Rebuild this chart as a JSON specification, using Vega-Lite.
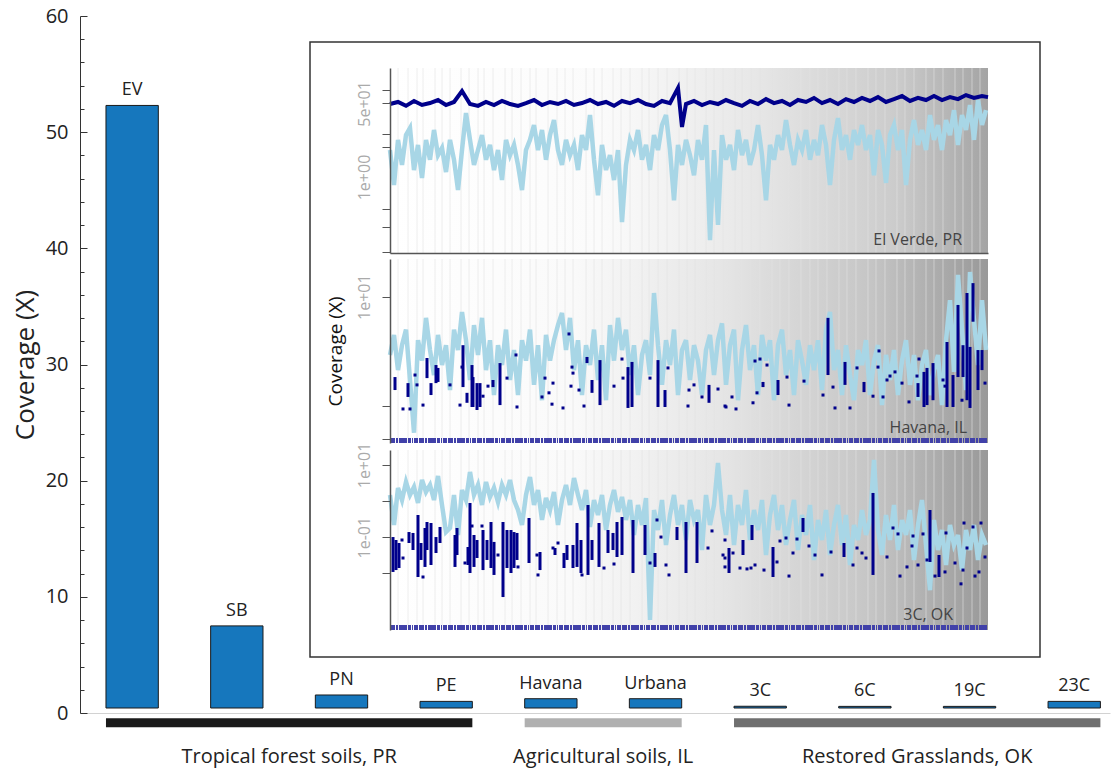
{
"$schema": "https://vega.github.io/schema/vega-lite/v6.json",
"width": 1030, "height": 697,
"autosize": {"type": "none"},
"padding": {"left": 80, "top": 16, "right": 10, "bottom": 59},
"config": {"view": {"stroke": null}, "font": "Open Sans", "axis": {"grid": false, "labelFlush": false, "labelOverlap": false}},
"datasets": {
"bars": [{"sample":"EV","value":52.3},{"sample":"SB","value":7.5},{"sample":"PN","value":1.55},{"sample":"PE","value":1.0},{"sample":"Havana","value":1.23},{"sample":"Urbana","value":1.23},{"sample":"3C","value":0.58},{"sample":"6C","value":0.57},{"sample":"19C","value":0.57},{"sample":"23C","value":1.0}],
"groups": [{"group":"Tropical forest soils, PR","first":"EV","last":"PE","anchor":"SB"},{"group":"Agricultural soils, IL","first":"Havana","last":"Urbana","anchor":"Havana"},{"group":"Restored Grasslands, OK","first":"3C","last":"23C","anchor":"6C"}],
"site1": [{"site":"El Verde, PR"}],
"site2": [{"site":"Havana, IL"}],
"site3": [{"site":"3C, OK"}],
"bounds": [{"pos":8},{"pos":18},{"pos":27},{"pos":33},{"pos":45},{"pos":52},{"pos":60},{"pos":71},{"pos":79},{"pos":88},{"pos":94},{"pos":103},{"pos":115},{"pos":122},{"pos":131},{"pos":140},{"pos":146},{"pos":158},{"pos":167},{"pos":175},{"pos":183},{"pos":196},{"pos":204},{"pos":212},{"pos":223},{"pos":231},{"pos":240},{"pos":252},{"pos":259},{"pos":268},{"pos":277},{"pos":289},{"pos":297},{"pos":305},{"pos":316},{"pos":324},{"pos":333},{"pos":345},{"pos":352},{"pos":361},{"pos":370},{"pos":382},{"pos":390},{"pos":399},{"pos":411},{"pos":420},{"pos":428},{"pos":437},{"pos":449},{"pos":457},{"pos":466},{"pos":478},{"pos":486},{"pos":495},{"pos":507},{"pos":515},{"pos":524},{"pos":536},{"pos":544},{"pos":553},{"pos":565},{"pos":573},{"pos":582},{"pos":590}],
"p1light": [{"pos":0,"cov":4.2},{"pos":4,"cov":0.65},{"pos":8,"cov":7.2},{"pos":12,"cov":1.9},{"pos":16,"cov":9.3},{"pos":20,"cov":13.5},{"pos":24,"cov":1.45},{"pos":28,"cov":5.5},{"pos":32,"cov":0.95},{"pos":36,"cov":7.2},{"pos":40,"cov":2.5},{"pos":44,"cov":12.2},{"pos":48,"cov":3.2},{"pos":52,"cov":4.7},{"pos":56,"cov":1.3},{"pos":60,"cov":7.2},{"pos":64,"cov":2.5},{"pos":68,"cov":0.5},{"pos":72,"cov":4.2},{"pos":76,"cov":30},{"pos":80,"cov":7.2},{"pos":84,"cov":1.9},{"pos":88,"cov":4.2},{"pos":92,"cov":9.3},{"pos":96,"cov":2.5},{"pos":100,"cov":5.5},{"pos":104,"cov":1.45},{"pos":108,"cov":4.2},{"pos":112,"cov":0.85},{"pos":116,"cov":7.2},{"pos":120,"cov":3.2},{"pos":124,"cov":5.5},{"pos":128,"cov":1.9},{"pos":132,"cov":0.5},{"pos":136,"cov":4.2},{"pos":140,"cov":7.2},{"pos":144,"cov":15.9},{"pos":148,"cov":4.2},{"pos":152,"cov":12.2},{"pos":156,"cov":2.5},{"pos":160,"cov":9.3},{"pos":164,"cov":20.7},{"pos":168,"cov":4.2},{"pos":172,"cov":1.9},{"pos":176,"cov":7.2},{"pos":180,"cov":3.2},{"pos":184,"cov":5.5},{"pos":188,"cov":1.45},{"pos":192,"cov":9.3},{"pos":196,"cov":4.2},{"pos":200,"cov":27},{"pos":204,"cov":2.5},{"pos":208,"cov":0.38},{"pos":212,"cov":5.5},{"pos":216,"cov":1.45},{"pos":220,"cov":3.2},{"pos":224,"cov":0.85},{"pos":228,"cov":4.2},{"pos":232,"cov":0.091},{"pos":236,"cov":1.9},{"pos":240,"cov":7.2},{"pos":244,"cov":4.2},{"pos":248,"cov":12.2},{"pos":252,"cov":2.5},{"pos":256,"cov":5.5},{"pos":260,"cov":1.45},{"pos":264,"cov":9.3},{"pos":268,"cov":4.2},{"pos":272,"cov":15.9},{"pos":276,"cov":27},{"pos":280,"cov":4.2},{"pos":284,"cov":0.29},{"pos":288,"cov":5.5},{"pos":292,"cov":1.9},{"pos":296,"cov":7.2},{"pos":300,"cov":3.2},{"pos":304,"cov":1.1},{"pos":308,"cov":7.2},{"pos":312,"cov":2.5},{"pos":316,"cov":15.9},{"pos":320,"cov":0.035},{"pos":324,"cov":4.2},{"pos":328,"cov":0.078},{"pos":332,"cov":9.3},{"pos":336,"cov":2.5},{"pos":340,"cov":5.5},{"pos":344,"cov":1.45},{"pos":348,"cov":12.2},{"pos":352,"cov":3.2},{"pos":356,"cov":7.2},{"pos":360,"cov":1.9},{"pos":364,"cov":4.2},{"pos":368,"cov":15.9},{"pos":372,"cov":3.2},{"pos":376,"cov":0.29},{"pos":380,"cov":5.5},{"pos":384,"cov":2.5},{"pos":388,"cov":9.3},{"pos":392,"cov":4.2},{"pos":396,"cov":20.7},{"pos":400,"cov":5.5},{"pos":404,"cov":1.9},{"pos":408,"cov":7.2},{"pos":412,"cov":4.2},{"pos":416,"cov":12.2},{"pos":420,"cov":2.5},{"pos":424,"cov":7.2},{"pos":428,"cov":3.2},{"pos":432,"cov":15.9},{"pos":436,"cov":5.5},{"pos":440,"cov":0.65},{"pos":444,"cov":7.2},{"pos":448,"cov":23},{"pos":452,"cov":4.2},{"pos":456,"cov":9.3},{"pos":460,"cov":2.5},{"pos":464,"cov":12.2},{"pos":468,"cov":5.5},{"pos":472,"cov":15.9},{"pos":476,"cov":4.2},{"pos":480,"cov":9.3},{"pos":484,"cov":1.1},{"pos":488,"cov":12.2},{"pos":492,"cov":5.5},{"pos":496,"cov":0.73},{"pos":500,"cov":9.3},{"pos":504,"cov":15.9},{"pos":508,"cov":4.2},{"pos":512,"cov":12.2},{"pos":516,"cov":0.65},{"pos":520,"cov":7.2},{"pos":524,"cov":20.7},{"pos":528,"cov":5.5},{"pos":532,"cov":12.2},{"pos":536,"cov":4.2},{"pos":540,"cov":27},{"pos":544,"cov":7.2},{"pos":548,"cov":15.9},{"pos":552,"cov":4.2},{"pos":556,"cov":20.7},{"pos":560,"cov":9.3},{"pos":564,"cov":35},{"pos":568,"cov":5.5},{"pos":572,"cov":27},{"pos":576,"cov":12.2},{"pos":580,"cov":46},{"pos":584,"cov":7.2},{"pos":588,"cov":60},{"pos":592,"cov":15.9},{"pos":596,"cov":35}],
"p1dark": [{"pos":0,"cov":48.5},{"pos":8,"cov":54},{"pos":16,"cov":44},{"pos":24,"cov":57},{"pos":32,"cov":46},{"pos":40,"cov":51},{"pos":48,"cov":60},{"pos":56,"cov":46},{"pos":64,"cov":54},{"pos":72,"cov":97},{"pos":80,"cov":48.5},{"pos":88,"cov":44},{"pos":96,"cov":54},{"pos":104,"cov":46},{"pos":112,"cov":57},{"pos":120,"cov":48.5},{"pos":128,"cov":44},{"pos":136,"cov":51},{"pos":144,"cov":60},{"pos":152,"cov":46},{"pos":160,"cov":54},{"pos":168,"cov":48.5},{"pos":176,"cov":57},{"pos":184,"cov":46},{"pos":192,"cov":51},{"pos":200,"cov":60},{"pos":208,"cov":48.5},{"pos":216,"cov":54},{"pos":224,"cov":44},{"pos":232,"cov":57},{"pos":240,"cov":51},{"pos":248,"cov":60},{"pos":256,"cov":48.5},{"pos":264,"cov":44},{"pos":272,"cov":57},{"pos":280,"cov":51},{"pos":288,"cov":114},{"pos":292,"cov":14.3},{"pos":296,"cov":48.5},{"pos":304,"cov":57},{"pos":312,"cov":46},{"pos":320,"cov":54},{"pos":328,"cov":48.5},{"pos":336,"cov":60},{"pos":344,"cov":51},{"pos":352,"cov":44},{"pos":360,"cov":57},{"pos":368,"cov":48.5},{"pos":376,"cov":63},{"pos":384,"cov":51},{"pos":392,"cov":57},{"pos":400,"cov":46},{"pos":408,"cov":60},{"pos":416,"cov":54},{"pos":424,"cov":67},{"pos":432,"cov":51},{"pos":440,"cov":60},{"pos":448,"cov":48.5},{"pos":456,"cov":63},{"pos":464,"cov":54},{"pos":472,"cov":67},{"pos":480,"cov":57},{"pos":488,"cov":70},{"pos":496,"cov":54},{"pos":504,"cov":63},{"pos":512,"cov":74},{"pos":520,"cov":57},{"pos":528,"cov":67},{"pos":536,"cov":60},{"pos":544,"cov":74},{"pos":552,"cov":60},{"pos":560,"cov":70},{"pos":568,"cov":63},{"pos":576,"cov":78},{"pos":584,"cov":67},{"pos":592,"cov":74},{"pos":598,"cov":70}],
"p2light": [{"pos":0,"cov":2.93},{"pos":4,"cov":4.47},{"pos":8,"cov":2.13},{"pos":12,"cov":3.6},{"pos":16,"cov":5.0},{"pos":20,"cov":1.73},{"pos":24,"cov":0.57},{"pos":28,"cov":4.0},{"pos":32,"cov":2.6},{"pos":36,"cov":6.4},{"pos":40,"cov":3.25},{"pos":44,"cov":1.92},{"pos":48,"cov":4.47},{"pos":52,"cov":2.37},{"pos":56,"cov":3.6},{"pos":60,"cov":1.4},{"pos":64,"cov":5.0},{"pos":68,"cov":3.25},{"pos":72,"cov":7.24},{"pos":76,"cov":4.0},{"pos":80,"cov":1.73},{"pos":84,"cov":5.5},{"pos":88,"cov":2.93},{"pos":92,"cov":6.4},{"pos":96,"cov":2.13},{"pos":100,"cov":4.0},{"pos":104,"cov":1.26},{"pos":108,"cov":3.6},{"pos":112,"cov":2.37},{"pos":116,"cov":5.0},{"pos":120,"cov":1.73},{"pos":124,"cov":3.25},{"pos":128,"cov":1.26},{"pos":132,"cov":4.0},{"pos":136,"cov":2.6},{"pos":140,"cov":5.0},{"pos":144,"cov":1.56},{"pos":148,"cov":3.6},{"pos":152,"cov":1.13},{"pos":156,"cov":4.47},{"pos":160,"cov":2.6},{"pos":164,"cov":4.0},{"pos":168,"cov":5.5},{"pos":172,"cov":7.1},{"pos":176,"cov":3.25},{"pos":180,"cov":6.4},{"pos":184,"cov":2.13},{"pos":188,"cov":4.0},{"pos":192,"cov":1.26},{"pos":196,"cov":3.6},{"pos":200,"cov":2.37},{"pos":204,"cov":5.0},{"pos":208,"cov":1.73},{"pos":212,"cov":3.6},{"pos":216,"cov":1.13},{"pos":220,"cov":5.5},{"pos":224,"cov":2.6},{"pos":228,"cov":6.4},{"pos":232,"cov":3.25},{"pos":236,"cov":5.0},{"pos":240,"cov":1.92},{"pos":244,"cov":3.6},{"pos":248,"cov":1.26},{"pos":252,"cov":2.93},{"pos":256,"cov":4.0},{"pos":260,"cov":1.92},{"pos":264,"cov":10.8},{"pos":268,"cov":3.6},{"pos":272,"cov":1.56},{"pos":276,"cov":4.0},{"pos":280,"cov":2.37},{"pos":284,"cov":5.0},{"pos":288,"cov":1.26},{"pos":292,"cov":3.25},{"pos":296,"cov":4.0},{"pos":300,"cov":1.73},{"pos":304,"cov":3.6},{"pos":308,"cov":2.6},{"pos":312,"cov":1.26},{"pos":316,"cov":3.25},{"pos":320,"cov":4.47},{"pos":324,"cov":1.92},{"pos":328,"cov":4.0},{"pos":332,"cov":5.7},{"pos":336,"cov":1.56},{"pos":340,"cov":3.6},{"pos":344,"cov":5.0},{"pos":348,"cov":1.13},{"pos":352,"cov":3.25},{"pos":356,"cov":5.5},{"pos":360,"cov":2.13},{"pos":364,"cov":3.6},{"pos":368,"cov":1.26},{"pos":372,"cov":4.47},{"pos":376,"cov":2.6},{"pos":380,"cov":4.0},{"pos":384,"cov":1.13},{"pos":388,"cov":3.6},{"pos":392,"cov":5.0},{"pos":396,"cov":1.92},{"pos":400,"cov":3.25},{"pos":404,"cov":1.26},{"pos":408,"cov":4.0},{"pos":412,"cov":2.6},{"pos":416,"cov":1.56},{"pos":420,"cov":3.6},{"pos":424,"cov":2.13},{"pos":428,"cov":4.0},{"pos":432,"cov":1.4},{"pos":436,"cov":5.0},{"pos":440,"cov":7.24},{"pos":444,"cov":2.13},{"pos":448,"cov":3.25},{"pos":452,"cov":1.26},{"pos":456,"cov":3.6},{"pos":460,"cov":1.92},{"pos":464,"cov":1.13},{"pos":468,"cov":3.25},{"pos":472,"cov":2.37},{"pos":476,"cov":4.0},{"pos":480,"cov":1.26},{"pos":484,"cov":2.6},{"pos":488,"cov":3.6},{"pos":492,"cov":1.02},{"pos":496,"cov":2.93},{"pos":500,"cov":1.73},{"pos":504,"cov":3.25},{"pos":508,"cov":1.26},{"pos":512,"cov":2.6},{"pos":516,"cov":4.0},{"pos":520,"cov":1.56},{"pos":524,"cov":2.93},{"pos":528,"cov":1.13},{"pos":532,"cov":2.37},{"pos":536,"cov":3.25},{"pos":540,"cov":1.26},{"pos":544,"cov":2.13},{"pos":548,"cov":2.93},{"pos":552,"cov":1.02},{"pos":556,"cov":4.0},{"pos":560,"cov":9.3},{"pos":564,"cov":2.05},{"pos":568,"cov":15.8},{"pos":572,"cov":5.0},{"pos":576,"cov":1.4},{"pos":580,"cov":16.8},{"pos":584,"cov":6.1},{"pos":588,"cov":2.37},{"pos":592,"cov":9.3},{"pos":596,"cov":3.25}],
"p2rules": [{"pos":5,"lo":1.40,"hi":1.84},{"pos":18,"lo":1.21,"hi":1.62},{"pos":37,"lo":1.80,"hi":2.75},{"pos":41,"lo":1.26,"hi":1.62},{"pos":46,"lo":1.62,"hi":2.37},{"pos":48,"lo":1.66,"hi":2.23},{"pos":73,"lo":1.49,"hi":3.6},{"pos":77,"lo":1.07,"hi":1.32},{"pos":82,"lo":0.98,"hi":2.37},{"pos":83,"lo":0.98,"hi":1.84},{"pos":87,"lo":0.92,"hi":1.62},{"pos":90,"lo":0.98,"hi":1.62},{"pos":103,"lo":1.49,"hi":1.73},{"pos":110,"lo":1.02,"hi":2.47},{"pos":197,"lo":2.47,"hi":2.81},{"pos":202,"lo":1.32,"hi":1.73},{"pos":210,"lo":1.02,"hi":2.63},{"pos":238,"lo":0.96,"hi":2.27},{"pos":242,"lo":0.98,"hi":2.53},{"pos":268,"lo":0.98,"hi":2.63},{"pos":275,"lo":0.98,"hi":1.40},{"pos":319,"lo":1.07,"hi":1.56},{"pos":373,"lo":1.49,"hi":1.66},{"pos":388,"lo":1.26,"hi":1.73},{"pos":438,"lo":1.92,"hi":6.4},{"pos":455,"lo":1.56,"hi":2.53},{"pos":474,"lo":1.34,"hi":1.66},{"pos":528,"lo":1.21,"hi":1.62},{"pos":534,"lo":0.98,"hi":2.05},{"pos":537,"lo":1.02,"hi":2.23},{"pos":543,"lo":1.13,"hi":2.47},{"pos":557,"lo":0.98,"hi":3.85},{"pos":563,"lo":0.98,"hi":1.92},{"pos":568,"lo":1.84,"hi":8.4},{"pos":573,"lo":1.84,"hi":3.6},{"pos":577,"lo":1.13,"hi":10.8},{"pos":580,"lo":0.96,"hi":3.47},{"pos":583,"lo":5.9,"hi":13.3},{"pos":588,"lo":1.40,"hi":3.25},{"pos":592,"lo":2.13,"hi":3.25}],
"p2dots": [{"pos":13,"cov":0.94},{"pos":20,"cov":0.94},{"pos":25,"cov":1.92},{"pos":27,"cov":1.56},{"pos":33,"cov":1.02},{"pos":60,"cov":1.56},{"pos":70,"cov":1.02},{"pos":72,"cov":2.27},{"pos":93,"cov":1.23},{"pos":98,"cov":1.52},{"pos":117,"cov":1.80},{"pos":126,"cov":2.93},{"pos":127,"cov":0.98},{"pos":152,"cov":1.21},{"pos":155,"cov":1.80},{"pos":159,"cov":1.32},{"pos":162,"cov":1.04},{"pos":163,"cov":1.62},{"pos":173,"cov":0.96},{"pos":179,"cov":4.56},{"pos":181,"cov":1.52},{"pos":182,"cov":2.27},{"pos":183,"cov":2.0},{"pos":189,"cov":1.40},{"pos":194,"cov":1.0},{"pos":224,"cov":1.52},{"pos":232,"cov":2.69},{"pos":233,"cov":1.80},{"pos":260,"cov":1.80},{"pos":278,"cov":2.23},{"pos":298,"cov":1.0},{"pos":299,"cov":1.40},{"pos":304,"cov":1.56},{"pos":312,"cov":1.21},{"pos":328,"cov":1.43},{"pos":335,"cov":1.0},{"pos":336,"cov":0.98},{"pos":342,"cov":1.21},{"pos":346,"cov":0.94},{"pos":363,"cov":1.07},{"pos":365,"cov":2.58},{"pos":367,"cov":1.32},{"pos":370,"cov":2.69},{"pos":377,"cov":2.37},{"pos":397,"cov":1.84},{"pos":399,"cov":1.02},{"pos":414,"cov":1.69},{"pos":433,"cov":1.26},{"pos":443,"cov":1.49},{"pos":445,"cov":0.96},{"pos":460,"cov":0.96},{"pos":467,"cov":2.23},{"pos":483,"cov":1.23},{"pos":488,"cov":2.27},{"pos":489,"cov":3.19},{"pos":493,"cov":1.21},{"pos":497,"cov":1.73},{"pos":500,"cov":1.88},{"pos":505,"cov":2.05},{"pos":512,"cov":1.62},{"pos":519,"cov":1.09},{"pos":527,"cov":1.88},{"pos":529,"cov":2.69},{"pos":553,"cov":1.73},{"pos":555,"cov":1.52},{"pos":572,"cov":1.13},{"pos":595,"cov":1.62}],
"p3light": [{"pos":0,"cov":1.48},{"pos":4,"cov":0.218},{"pos":8,"cov":2.31},{"pos":12,"cov":1.07},{"pos":16,"cov":3.38},{"pos":20,"cov":1.48},{"pos":24,"cov":2.46},{"pos":28,"cov":0.886},{"pos":32,"cov":3.84},{"pos":36,"cov":1.79},{"pos":40,"cov":2.79},{"pos":44,"cov":1.07},{"pos":48,"cov":4.96},{"pos":52,"cov":0.78},{"pos":56,"cov":0.139},{"pos":60,"cov":0.18},{"pos":64,"cov":1.48},{"pos":68,"cov":0.115},{"pos":72,"cov":2.03},{"pos":76,"cov":1.07},{"pos":80,"cov":6.4},{"pos":84,"cov":1.48},{"pos":88,"cov":2.79},{"pos":92,"cov":0.78},{"pos":96,"cov":3.38},{"pos":100,"cov":1.30},{"pos":104,"cov":2.31},{"pos":108,"cov":0.944},{"pos":112,"cov":2.79},{"pos":116,"cov":1.48},{"pos":120,"cov":3.84},{"pos":124,"cov":1.07},{"pos":128,"cov":0.567},{"pos":132,"cov":0.218},{"pos":136,"cov":1.48},{"pos":140,"cov":4.65},{"pos":144,"cov":0.78},{"pos":148,"cov":2.03},{"pos":152,"cov":0.30},{"pos":156,"cov":1.22},{"pos":160,"cov":0.567},{"pos":164,"cov":1.79},{"pos":168,"cov":0.218},{"pos":172,"cov":1.07},{"pos":176,"cov":2.79},{"pos":180,"cov":0.78},{"pos":184,"cov":4.36},{"pos":188,"cov":1.48},{"pos":192,"cov":0.567},{"pos":196,"cov":2.03},{"pos":200,"cov":0.192},{"pos":204,"cov":1.07},{"pos":208,"cov":0.412},{"pos":212,"cov":1.48},{"pos":216,"cov":0.158},{"pos":220,"cov":0.78},{"pos":224,"cov":2.03},{"pos":228,"cov":0.5},{"pos":232,"cov":1.30},{"pos":236,"cov":0.30},{"pos":240,"cov":1.07},{"pos":244,"cov":0.115},{"pos":248,"cov":0.78},{"pos":252,"cov":0.218},{"pos":256,"cov":1.22},{"pos":260,"cov":0.00051},{"pos":264,"cov":0.567},{"pos":268,"cov":0.158},{"pos":272,"cov":1.07},{"pos":276,"cov":0.0608},{"pos":280,"cov":0.412},{"pos":284,"cov":1.48},{"pos":288,"cov":0.218},{"pos":292,"cov":0.78},{"pos":296,"cov":0.0836},{"pos":300,"cov":1.07},{"pos":304,"cov":0.30},{"pos":308,"cov":0.567},{"pos":312,"cov":0.0442},{"pos":316,"cov":1.48},{"pos":320,"cov":0.218},{"pos":324,"cov":0.78},{"pos":328,"cov":11.4},{"pos":332,"cov":0.567},{"pos":336,"cov":0.115},{"pos":340,"cov":1.48},{"pos":344,"cov":0.0608},{"pos":348,"cov":0.78},{"pos":352,"cov":0.218},{"pos":356,"cov":2.03},{"pos":360,"cov":0.0836},{"pos":364,"cov":0.567},{"pos":368,"cov":0.158},{"pos":372,"cov":1.07},{"pos":376,"cov":0.0321},{"pos":380,"cov":0.412},{"pos":384,"cov":1.48},{"pos":388,"cov":0.158},{"pos":392,"cov":0.78},{"pos":396,"cov":0.0608},{"pos":400,"cov":0.30},{"pos":404,"cov":1.07},{"pos":408,"cov":0.0442},{"pos":412,"cov":0.412},{"pos":416,"cov":0.115},{"pos":420,"cov":0.78},{"pos":424,"cov":0.0234},{"pos":428,"cov":0.30},{"pos":432,"cov":0.0836},{"pos":436,"cov":0.567},{"pos":440,"cov":0.0321},{"pos":444,"cov":0.218},{"pos":448,"cov":0.78},{"pos":452,"cov":0.0608},{"pos":456,"cov":0.412},{"pos":460,"cov":0.017},{"pos":464,"cov":0.218},{"pos":468,"cov":0.0836},{"pos":472,"cov":0.567},{"pos":476,"cov":0.115},{"pos":480,"cov":0.30},{"pos":484,"cov":13.8},{"pos":488,"cov":0.158},{"pos":492,"cov":0.0321},{"pos":496,"cov":0.412},{"pos":500,"cov":0.0836},{"pos":504,"cov":0.78},{"pos":508,"cov":0.0442},{"pos":512,"cov":0.30},{"pos":516,"cov":0.115},{"pos":520,"cov":0.567},{"pos":524,"cov":0.0234},{"pos":528,"cov":0.218},{"pos":532,"cov":1.07},{"pos":536,"cov":0.0608},{"pos":540,"cov":0.0034},{"pos":544,"cov":0.30},{"pos":548,"cov":0.0442},{"pos":552,"cov":0.158},{"pos":556,"cov":0.017},{"pos":560,"cov":0.218},{"pos":564,"cov":0.0608},{"pos":568,"cov":0.115},{"pos":572,"cov":0.0123},{"pos":576,"cov":0.158},{"pos":580,"cov":0.0442},{"pos":584,"cov":0.218},{"pos":588,"cov":0.0234},{"pos":592,"cov":0.115},{"pos":596,"cov":0.0608}],
"p3rules": [{"pos":3,"lo":0.0109,"hi":0.101},{"pos":6,"lo":0.0123,"hi":0.0836},{"pos":9,"lo":0.014,"hi":0.069},{"pos":19,"lo":0.069,"hi":0.139},{"pos":23,"lo":0.0442,"hi":0.131},{"pos":28,"lo":0.0079,"hi":0.412},{"pos":31,"lo":0.0234,"hi":0.069},{"pos":35,"lo":0.015,"hi":0.18},{"pos":37,"lo":0.0442,"hi":0.264},{"pos":41,"lo":0.017,"hi":0.247},{"pos":46,"lo":0.0365,"hi":0.101},{"pos":50,"lo":0.069,"hi":0.192},{"pos":65,"lo":0.015,"hi":0.115},{"pos":67,"lo":0.0321,"hi":0.18},{"pos":78,"lo":0.017,"hi":0.0535},{"pos":80,"lo":0.0102,"hi":0.886},{"pos":84,"lo":0.015,"hi":0.115},{"pos":87,"lo":0.0265,"hi":0.0836},{"pos":93,"lo":0.0123,"hi":0.158},{"pos":97,"lo":0.0234,"hi":0.0836},{"pos":101,"lo":0.014,"hi":0.264},{"pos":104,"lo":0.009,"hi":0.074},{"pos":113,"lo":0.0022,"hi":0.264},{"pos":117,"lo":0.014,"hi":0.158},{"pos":121,"lo":0.0102,"hi":0.158},{"pos":124,"lo":0.014,"hi":0.139},{"pos":127,"lo":0.0234,"hi":0.131},{"pos":139,"lo":0.0193,"hi":0.34},{"pos":150,"lo":0.0123,"hi":0.0389},{"pos":165,"lo":0.0321,"hi":0.0502},{"pos":174,"lo":0.014,"hi":0.0365},{"pos":177,"lo":0.0234,"hi":0.0608},{"pos":183,"lo":0.014,"hi":0.0608},{"pos":187,"lo":0.015,"hi":0.247},{"pos":191,"lo":0.0102,"hi":0.0836},{"pos":198,"lo":0.009,"hi":0.78},{"pos":202,"lo":0.0234,"hi":0.0836},{"pos":209,"lo":0.015,"hi":0.247},{"pos":218,"lo":0.0365,"hi":0.158},{"pos":223,"lo":0.0442,"hi":0.131},{"pos":227,"lo":0.0283,"hi":0.264},{"pos":232,"lo":0.0321,"hi":0.363},{"pos":243,"lo":0.0102,"hi":0.30},{"pos":255,"lo":0.0321,"hi":0.218},{"pos":265,"lo":0.015,"hi":0.0365},{"pos":287,"lo":0.0836,"hi":0.192},{"pos":296,"lo":0.0102,"hi":0.264},{"pos":307,"lo":0.0193,"hi":0.264},{"pos":339,"lo":0.0102,"hi":0.0502},{"pos":353,"lo":0.0321,"hi":0.0836},{"pos":362,"lo":0.0836,"hi":0.218},{"pos":383,"lo":0.0079,"hi":0.0535},{"pos":413,"lo":0.139,"hi":0.34},{"pos":454,"lo":0.0283,"hi":0.069},{"pos":483,"lo":0.009,"hi":1.68},{"pos":540,"lo":0.0206,"hi":0.567},{"pos":549,"lo":0.0079,"hi":0.0321}],
"p3dots": [{"pos":12,"cov":0.0836},{"pos":13,"cov":0.0265},{"pos":33,"cov":0.0079},{"pos":75,"cov":0.0193},{"pos":82,"cov":0.204},{"pos":92,"cov":0.204},{"pos":108,"cov":0.0321},{"pos":128,"cov":0.015},{"pos":147,"cov":0.0321},{"pos":148,"cov":0.009},{"pos":163,"cov":0.0502},{"pos":168,"cov":0.069},{"pos":192,"cov":0.009},{"pos":214,"cov":0.014},{"pos":224,"cov":0.0181},{"pos":260,"cov":0.0193},{"pos":267,"cov":0.30},{"pos":271,"cov":0.101},{"pos":276,"cov":0.017},{"pos":279,"cov":0.009},{"pos":318,"cov":0.0502},{"pos":322,"cov":0.149},{"pos":333,"cov":0.0321},{"pos":335,"cov":0.0836},{"pos":335,"cov":0.0265},{"pos":335,"cov":0.015},{"pos":343,"cov":0.0365},{"pos":350,"cov":0.014},{"pos":357,"cov":0.0132},{"pos":361,"cov":0.014},{"pos":365,"cov":0.017},{"pos":374,"cov":0.0123},{"pos":387,"cov":0.0206},{"pos":390,"cov":0.0785},{"pos":396,"cov":0.095},{"pos":399,"cov":0.0084},{"pos":403,"cov":0.0365},{"pos":407,"cov":0.089},{"pos":419,"cov":0.0571},{"pos":425,"cov":0.0321},{"pos":432,"cov":0.009},{"pos":441,"cov":0.0389},{"pos":463,"cov":0.017},{"pos":467,"cov":0.0502},{"pos":472,"cov":0.0365},{"pos":476,"cov":0.0265},{"pos":497,"cov":0.0283},{"pos":503,"cov":0.18},{"pos":508,"cov":0.123},{"pos":510,"cov":0.0084},{"pos":517,"cov":0.015},{"pos":522,"cov":0.0571},{"pos":523,"cov":0.108},{"pos":528,"cov":0.017},{"pos":533,"cov":0.123},{"pos":537,"cov":0.0234},{"pos":545,"cov":0.0084},{"pos":555,"cov":0.0109},{"pos":556,"cov":0.131},{"pos":565,"cov":0.0193},{"pos":571,"cov":0.0051},{"pos":573,"cov":0.0123},{"pos":574,"cov":0.247},{"pos":577,"cov":0.0502},{"pos":583,"cov":0.192},{"pos":585,"cov":0.0084},{"pos":589,"cov":0.0109},{"pos":591,"cov":0.247},{"pos":595,"cov":0.0283}]
},
"layer": [
{
"layer": [
{"data": {"name": "bars"}, "mark": {"type": "bar", "fill": "#1677bd", "stroke": "#1a1a1a", "strokeWidth": 1},
 "encoding": {
  "x": {"field": "sample", "type": "nominal", "sort": null, "scale": {"domain": ["EV","SB","PN","PE","Havana","Urbana","3C","6C","19C","23C"], "paddingInner": 0.5, "paddingOuter": 0.17, "align": 0.73}, "axis": {"title": null, "labels": false, "ticks": false, "domainColor": "#d2d2d2", "domainWidth": 1}},
  "y": {"field": "value", "type": "quantitative", "scale": {"domain": [0, 60], "nice": false, "zero": false}, "axis": {"orient": "left", "title": "Coverage (X)", "values": [0, 10, 20, 30, 40, 50, 60], "labelOverlap": false, "tickSize": -7, "labelFontSize": 20, "labelColor": "#222222", "labelPadding": 19, "titleFontSize": 26, "titleFontWeight": "normal", "titleColor": "#222222", "titlePadding": 7, "domainColor": "#333333", "tickColor": "#333333"}},
  "y2": {"datum": 0.43}
 }},
{"data": {"name": "bars"}, "mark": {"type": "text", "baseline": "alphabetic", "dy": -10, "fontSize": 18, "color": "#222222"},
 "encoding": {"x": {"field": "sample", "type": "nominal"}, "y": {"field": "value", "type": "quantitative", "axis": {"orient": "left", "title": null, "values": [2,4,6,8,12,14,16,18,22,24,26,28,32,34,36,38,42,44,46,48,52,54,56,58], "labels": false, "domain": false, "tickSize": -4, "tickColor": "#333333"}}, "text": {"field": "sample"}}},
{"data": {"name": "groups"}, "mark": {"type": "rule", "strokeWidth": 9},
 "encoding": {"x": {"field": "first", "type": "nominal", "bandPosition": 0}, "x2": {"field": "last", "bandPosition": 1}, "y": {"datum": -0.83, "axis": null},
  "color": {"field": "group", "type": "nominal", "scale": {"domain": ["Tropical forest soils, PR","Agricultural soils, IL","Restored Grasslands, OK"], "range": ["#1a1a1a","#b0b0b0","#6f6f6f"]}, "legend": null}}},
{"data": {"name": "groups"}, "mark": {"type": "text", "fontSize": 20, "color": "#222222", "baseline": "middle"},
 "encoding": {"x": {"field": "anchor", "type": "nominal", "bandPosition": 1.5}, "y": {"datum": -3.76, "axis": null}, "text": {"field": "group"}}}
],
"resolve": {"axis": {"y": "independent"}}
},
{"data": {"name": "site1"}, "mark": {"type": "rect", "fill": "#ffffff", "stroke": "#333333", "strokeWidth": 1.5},
 "encoding": {"x": {"datum": 0, "type": "quantitative", "scale": {"domain": [0, 1], "range": [230, 960]}, "axis": null}, "x2": {"datum": 1},
  "y": {"datum": 0, "type": "quantitative", "scale": {"domain": [0, 1], "range": [641, 26]}, "axis": null}, "y2": {"datum": 1}}},
{
"layer": [
{"data": {"name": "site1"}, "mark": {"type": "rect", "fill": {"gradient": "linear", "x1": 0, "y1": 0, "x2": 1, "y2": 0, "stops": [{"offset": 0, "color": "#ffffff"}, {"offset": 0.35, "color": "#fbfbfb"}, {"offset": 0.6, "color": "#e8e8e8"}, {"offset": 0.85, "color": "#cbcbcb"}, {"offset": 1, "color": "#a4a4a4"}]}},
 "encoding": {
  "x": {"datum": 0, "type": "quantitative", "scale": {"domain": [0, 598], "range": [310, 908], "nice": false, "zero": false}, "axis": {"orient": "bottom", "offset": -460, "zindex": 2, "title": null, "labels": false, "ticks": false, "domainColor": "#555555", "domainWidth": 1.5}},
  "x2": {"datum": 598},
  "y": {"datum": 0.0176, "type": "quantitative", "scale": {"type": "log", "domain": [0.0176, 329], "range": [237, 52], "nice": false}, "axis": {"orient": "left", "offset": -310, "zindex": 2, "title": null, "values": [100, 50, 10, 5, 1, 0.18, 0.07, 0.019], "labelExpr": "datum.value == 50 ? '5e+01' : datum.value == 1 ? '1e+00' : ''", "tickOpacity": {"condition": {"test": "datum.value == 1", "value": 0}, "value": 1}, "labelAngle": -90, "labelAlign": "center", "labelBaseline": "bottom", "labelFontSize": 16, "labelColor": "#aaaaaa", "labelPadding": 10, "tickSize": 8, "tickColor": "#555555", "domainColor": "#555555", "domainWidth": 1.5}},
  "y2": {"datum": 329}
 }},
{"data": {"name": "bounds"}, "mark": {"type": "rule", "color": "#e2e2e2", "strokeWidth": 1, "opacity": 0.6},
 "encoding": {"x": {"field": "pos", "type": "quantitative"}, "y": {"datum": 0.0176}, "y2": {"datum": 329}}},
{"data": {"name": "p1light"}, "mark": {"type": "line", "color": "#a8d6e6", "strokeWidth": 4.5},
 "encoding": {"x": {"field": "pos", "type": "quantitative"}, "y": {"field": "cov", "type": "quantitative"}}},
{"data": {"name": "p1dark"}, "mark": {"type": "line", "color": "#00008b", "strokeWidth": 4},
 "encoding": {"x": {"field": "pos", "type": "quantitative"}, "y": {"field": "cov", "type": "quantitative"}}},
{"data": {"name": "site1"}, "mark": {"type": "text", "align": "right", "baseline": "middle", "fontSize": 16, "color": "#444444"},
 "encoding": {"x": {"datum": 572}, "y": {"datum": 0.035}, "text": {"field": "site"}}}
]
},
{
"layer": [
{"data": {"name": "site2"}, "mark": {"type": "rect", "fill": {"gradient": "linear", "x1": 0, "y1": 0, "x2": 1, "y2": 0, "stops": [{"offset": 0, "color": "#ffffff"}, {"offset": 0.3, "color": "#fafafa"}, {"offset": 0.55, "color": "#e6e6e6"}, {"offset": 0.8, "color": "#c6c6c6"}, {"offset": 1, "color": "#999999"}]}},
 "encoding": {
  "x": {"datum": 0, "type": "quantitative", "scale": {"domain": [0, 598], "range": [310, 908], "nice": false, "zero": false}, "axis": null},
  "x2": {"datum": 598},
  "y": {"datum": 0.459, "type": "quantitative", "scale": {"type": "log", "domain": [0.459, 22.1], "range": [427, 243], "nice": false}, "axis": {"orient": "left", "offset": -310, "zindex": 2, "title": "Coverage  (X)", "titleFontSize": 19, "titleFontWeight": "normal", "titleColor": "#111111", "titlePadding": 11, "values": [10, 1, 0.5], "labelExpr": "datum.value == 10 ? '1e+01' : ''", "labelAngle": -90, "labelAlign": "center", "labelBaseline": "bottom", "labelFontSize": 16, "labelColor": "#aaaaaa", "labelPadding": 10, "tickSize": 8, "tickColor": "#555555", "domainColor": "#555555", "domainWidth": 1.5}},
  "y2": {"datum": 22.1}
 }},
{"data": {"name": "bounds"}, "mark": {"type": "rule", "color": "#e2e2e2", "strokeWidth": 1, "opacity": 0.6},
 "encoding": {"x": {"field": "pos", "type": "quantitative"}, "y": {"datum": 0.459}, "y2": {"datum": 22.1}}},
{"data": {"name": "p2light"}, "mark": {"type": "line", "color": "#a8d6e6", "strokeWidth": 4.5},
 "encoding": {"x": {"field": "pos", "type": "quantitative"}, "y": {"field": "cov", "type": "quantitative"}}},
{"data": {"name": "p2rules"}, "mark": {"type": "rule", "color": "#00008b", "strokeWidth": 3},
 "encoding": {"x": {"field": "pos", "type": "quantitative"}, "y": {"field": "lo", "type": "quantitative"}, "y2": {"field": "hi"}}},
{"data": {"name": "p2dots"}, "mark": {"type": "square", "color": "#00008b", "size": 9, "opacity": 1},
 "encoding": {"x": {"field": "pos", "type": "quantitative"}, "y": {"field": "cov", "type": "quantitative"}}},
{"data": {"name": "site2"}, "mark": {"type": "rule", "color": "#4141a9", "strokeWidth": 5, "strokeDash": [5, 1, 2, 1, 8, 1, 3, 1, 1, 1, 4, 1]},
 "encoding": {"x": {"datum": 0}, "x2": {"datum": 598}, "y": {"datum": 0.483}}},
{"data": {"name": "site2"}, "mark": {"type": "text", "align": "right", "baseline": "middle", "fontSize": 16, "color": "#444444"},
 "encoding": {"x": {"datum": 577}, "y": {"datum": 0.63}, "text": {"field": "site"}}}
]
},
{
"layer": [
{"data": {"name": "site3"}, "mark": {"type": "rect", "fill": {"gradient": "linear", "x1": 0, "y1": 0, "x2": 1, "y2": 0, "stops": [{"offset": 0, "color": "#ffffff"}, {"offset": 0.3, "color": "#fafafa"}, {"offset": 0.55, "color": "#e6e6e6"}, {"offset": 0.8, "color": "#c6c6c6"}, {"offset": 1, "color": "#999999"}]}},
 "encoding": {
  "x": {"datum": 0, "type": "quantitative", "scale": {"domain": [0, 598], "range": [310, 908], "nice": false, "zero": false}, "axis": null},
  "x2": {"datum": 598},
  "y": {"datum": 0.000269, "type": "quantitative", "scale": {"type": "log", "domain": [0.000269, 26], "range": [614, 434], "nice": false}, "axis": {"orient": "left", "offset": -310, "zindex": 2, "title": null, "values": [10, 1, 0.1, 0.01], "labelExpr": "datum.value == 10 ? '1e+01' : datum.value == 0.1 ? '1e-01' : ''", "labelAngle": -90, "labelAlign": "center", "labelBaseline": "bottom", "labelFontSize": 16, "labelColor": "#aaaaaa", "labelPadding": 10, "tickSize": 8, "tickColor": "#555555", "domainColor": "#555555", "domainWidth": 1.5}},
  "y2": {"datum": 26}
 }},
{"data": {"name": "bounds"}, "mark": {"type": "rule", "color": "#e2e2e2", "strokeWidth": 1, "opacity": 0.6},
 "encoding": {"x": {"field": "pos", "type": "quantitative"}, "y": {"datum": 0.000269}, "y2": {"datum": 26}}},
{"data": {"name": "p3light"}, "mark": {"type": "line", "color": "#a8d6e6", "strokeWidth": 4.5},
 "encoding": {"x": {"field": "pos", "type": "quantitative"}, "y": {"field": "cov", "type": "quantitative"}}},
{"data": {"name": "p3rules"}, "mark": {"type": "rule", "color": "#00008b", "strokeWidth": 3},
 "encoding": {"x": {"field": "pos", "type": "quantitative"}, "y": {"field": "lo", "type": "quantitative"}, "y2": {"field": "hi"}}},
{"data": {"name": "p3dots"}, "mark": {"type": "square", "color": "#00008b", "size": 9, "opacity": 1},
 "encoding": {"x": {"field": "pos", "type": "quantitative"}, "y": {"field": "cov", "type": "quantitative"}}},
{"data": {"name": "site3"}, "mark": {"type": "rule", "color": "#4141a9", "strokeWidth": 5, "strokeDash": [5, 1, 2, 1, 8, 1, 3, 1, 1, 1, 4, 1]},
 "encoding": {"x": {"datum": 0}, "x2": {"datum": 598}, "y": {"datum": 0.000315}}},
{"data": {"name": "site3"}, "mark": {"type": "text", "align": "right", "baseline": "middle", "fontSize": 16, "color": "#444444"},
 "encoding": {"x": {"datum": 563}, "y": {"datum": 0.0007}, "text": {"field": "site"}}}
]
}
],
"resolve": {"scale": {"x": "independent", "y": "independent"}, "axis": {"x": "independent", "y": "independent"}}
}
